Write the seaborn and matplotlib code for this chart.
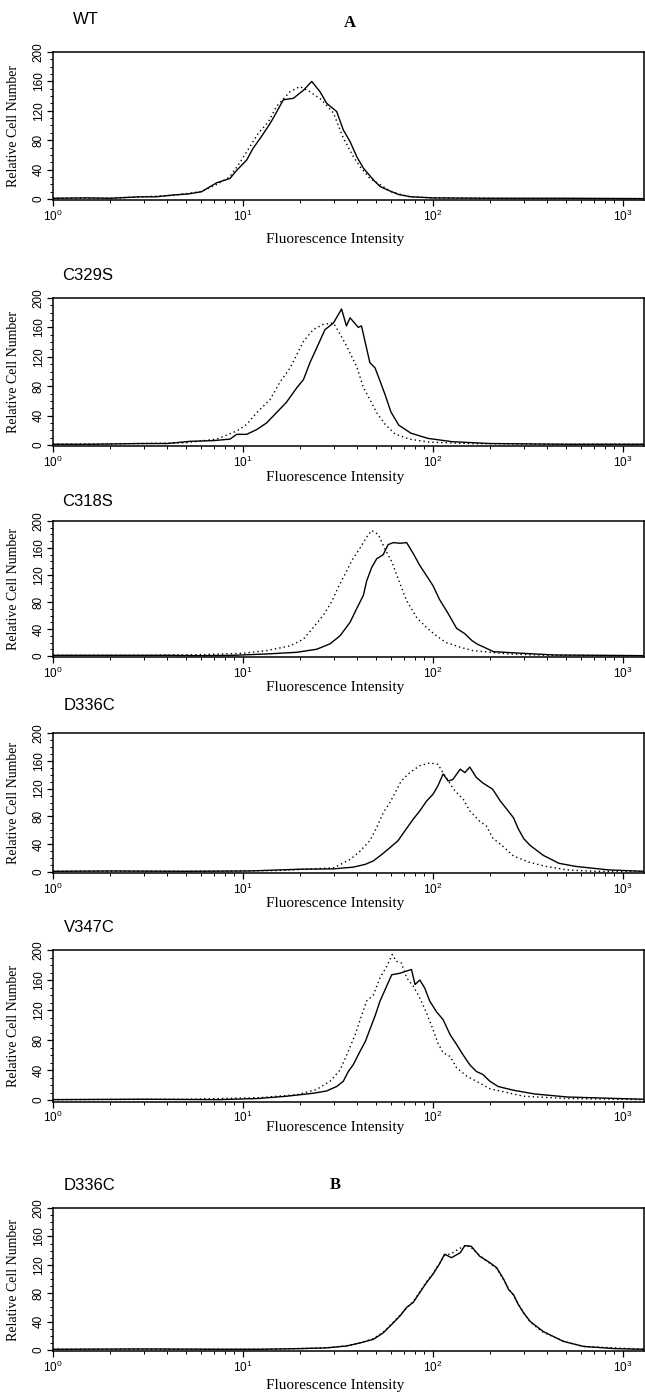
import numpy as np
import pandas as pd
import seaborn as sns
import matplotlib.pyplot as plt
from matplotlib.ticker import MultipleLocator, LogLocator, LogFormatterSciNotation, NullFormatter

# ---- data (intensity, relative cell number) ----
wt_solid_x = [1, 1.5, 2, 2.87, 3.5, 4.28, 5.2, 6.06, 7.26, 8.54, 9.26, 10.45, 11.3, 12.5, 13.9, 14.7, 16.3, 18.4,
              20.8, 23, 25.4, 27.6, 31.1, 33.7, 36.6, 39.6, 43, 48.5, 52.6, 58, 66, 76.6, 100, 200, 500, 1290]
wt_solid_y = [1, 1.5, 1, 3, 3, 5.4, 7, 10, 22, 28, 39, 53, 69, 85, 103, 114, 135, 137,
              148, 160, 146, 130, 119, 94, 78, 58, 42, 26, 17, 12, 6, 3, 1.5, 1, 1, 0.5]
wt_dot_x = [1, 2, 3, 4.3, 6, 7.3, 8.5, 9.6, 12, 13.6, 15, 17.7, 19.9, 22.5, 25.9, 29.9, 33.7, 38, 41.3, 46.5,
            51.6, 60, 75, 100, 300, 1290]
wt_dot_y = [1, 1, 3, 5, 10, 20, 30, 49, 89, 105, 126, 146, 153, 146, 135, 117, 83, 58, 44, 28,
            21, 10, 3, 1.5, 0.5, 0.5]

c329_solid_x = [1, 1.6, 2.87, 4, 5.26, 7, 8.54, 9.26, 10.45, 11.8, 13.3, 15, 16.9, 19.2, 20.8, 22.5, 24.4, 27,
                29.9, 33, 35, 36.6, 40.4, 42, 46.5, 49.5, 52.6, 56, 60, 66, 76.6, 94, 126, 200, 500, 1290]
c329_solid_y = [1, 1, 2, 2, 5, 6, 8, 14.5, 14.5, 21, 30, 44, 58, 78, 89, 112, 132, 157,
                166, 185, 162, 173, 160, 162, 112, 105, 87, 68, 45, 27, 16, 9, 4.5, 2, 1, 1]
c329_dot_x = [1, 3, 5, 7.26, 9.26, 10.45, 11.8, 13.9, 15.6, 17.7, 19.2, 20.8, 23.4, 26.4, 29.9, 32.4, 35, 39.6,
              43, 46.5, 50.5, 56, 63, 75, 95, 150, 400, 1290]
c329_dot_y = [1, 2, 3, 8, 19, 28, 44, 62, 85, 105, 123, 141, 157, 164, 166, 151, 135, 107,
              78, 62, 44, 28, 15, 8, 4, 2, 1, 1]

c318_solid_x = [1, 2, 4, 5.94, 8.87, 13.3, 19.2, 24.4, 28.7, 32.4, 36.6, 39.6, 43, 44.7, 47.5, 50.5, 54.6, 58,
                61.8, 67, 72.6, 78.6, 85.2, 92.4, 100, 108, 120, 133, 147, 160, 170, 208, 295, 438, 1290]
c318_solid_y = [1, 1, 1, 0.5, 1, 3, 5.5, 10, 18, 30, 50, 70, 90, 111, 131, 144, 150, 165,
                168, 167, 168, 152, 134, 119, 104, 84, 63, 41, 33, 23, 18, 6.4, 4, 1.5, 0.5]
c318_dot_x = [1, 3, 6, 10, 13.3, 17.7, 20.8, 23.4, 26.4, 29.2, 31.7, 34.4, 37.3, 41.3, 44.7, 47.5, 51.5, 55.9,
              60.6, 67, 72.6, 82, 92.4, 104, 117, 139, 162, 250, 400, 1290]
c318_dot_y = [1, 1, 2, 4, 8, 15, 25, 42, 60, 80, 102, 121, 141, 160, 176, 186, 180, 158,
              140, 107, 82, 57, 42, 30, 20, 13, 8, 3, 1, 0.5]

d336_solid_x = [1, 2, 5, 10.9, 19.9, 29.9, 38, 44, 48.5, 53.6, 59.3, 65.4, 71, 78.6, 85.2, 92.4, 100, 106, 113,
                120, 127, 139, 147, 156, 169, 183, 206, 226, 245, 265, 281, 300, 325, 380, 460, 565, 840, 1290]
d336_solid_y = [1, 1.5, 1, 1.5, 4, 4.5, 7, 11, 16, 25, 35, 45, 59, 76, 88, 102, 112, 124, 141,
                131, 133, 148, 143, 151, 136, 128, 119, 102, 90, 78, 62, 48, 38, 24, 12.5, 8, 3, 1]
d336_dot_x = [1, 5, 15, 30, 36.6, 41.3, 46.5, 50.5, 54.6, 59.3, 64, 68, 75.4, 85.2, 96, 106, 117, 130, 144,
              156, 176, 191, 206, 233, 265, 320, 394, 508, 700, 1290]
d336_dot_y = [1, 1, 2, 6, 18, 30, 45, 64, 85, 100, 117, 131, 143, 153, 157, 155, 136, 117, 105,
              88, 73, 66, 49, 37, 23, 14, 8, 3, 1, 0.5]

v347_solid_x = [1, 3, 7.56, 12, 16.9, 23.4, 27.5, 31.1, 33.7, 35.8, 38, 41.3, 44, 46.5, 49.5, 52.6, 55.9, 60.6,
                67, 72.6, 77, 80.4, 85.2, 90.5, 96, 104, 113, 123, 133, 144, 156, 169, 183, 199, 220, 265,
                343, 510, 930, 1290]
v347_solid_y = [0.5, 1, 0.5, 2, 5, 9, 12, 18, 25, 38, 47, 65, 78, 94, 112, 132, 147, 167,
                169, 172, 174, 154, 160, 149, 132, 118, 107, 87, 74, 60, 47, 38, 34, 25, 18, 13,
                8, 4, 2, 1]
v347_dot_x = [1, 5, 12, 19.2, 24.4, 28.7, 32.4, 35.8, 38.9, 42, 44.7, 48.5, 52.6, 57, 61, 64, 68, 72.6, 78.6,
              85.2, 92.4, 100, 106, 113, 123, 133, 150, 169, 199, 300, 500, 1290]
v347_dot_y = [0.5, 1, 3, 7, 14, 25, 40, 65, 87, 112, 132, 140, 163, 178, 194, 185, 183, 163, 152,
              136, 116, 94, 76, 63, 58, 43, 32, 25, 15, 5, 2, 0.5]

d336b_solid_x = [1, 3, 8, 12.3, 20, 27.5, 35, 41.3, 48.5, 54.6, 60.6, 67, 72.6, 78.6, 85.2, 92.4, 100, 108,
                 115, 125, 139, 147, 159, 176, 199, 216, 235, 250, 265, 281, 300, 325, 380, 487, 620, 900, 1290]
d336b_solid_y = [1, 1.5, 1, 1, 2, 3, 5.6, 10, 15, 24, 36, 48, 60, 67, 81, 95, 107, 121,
                 135, 130, 137, 147, 146, 132, 123, 116, 100, 85, 78, 64, 52, 40, 26, 12, 5, 2, 1]
d336b_dot_x = [1, 3, 12, 20, 27.5, 35, 41.3, 48.5, 54.6, 60.6, 67, 72.6, 78.6, 85.2, 92.4, 100, 108, 115,
               125, 136, 150, 159, 176, 199, 216, 235, 250, 265, 281, 300, 325, 380, 487, 620, 1290]
d336b_dot_y = [1, 1, 1, 2, 3, 6, 10, 16, 25, 37, 49, 59, 68, 82, 96, 108, 122, 133,
               136, 142, 148, 144, 133, 122, 115, 99, 86, 77, 65, 52, 39, 25, 12, 5, 1]

panel_names = ["WT", "C329S", "C318S", "D336C", "V347C", "D336C"]
solids = [(wt_solid_x, wt_solid_y), (c329_solid_x, c329_solid_y), (c318_solid_x, c318_solid_y),
          (d336_solid_x, d336_solid_y), (v347_solid_x, v347_solid_y), (d336b_solid_x, d336b_solid_y)]
dots = [(wt_dot_x, wt_dot_y), (c329_dot_x, c329_dot_y), (c318_dot_x, c318_dot_y),
        (d336_dot_x, d336_dot_y), (v347_dot_x, v347_dot_y), (d336b_dot_x, d336b_dot_y)]

# ---- layout in reference pixels ----
W, H = 645, 1392
ax_left, ax_right = 53, 644
tops = [52, 298, 521, 733, 950, 1208]
zeros = [199, 445, 656, 872, 1100, 1350]
xlabel_y = [239, 477, 688, 903, 1127, 1385]
name_pos = [(73, 20), (62, 275), (62, 502), (64, 705), (64, 928), (64, 1185)]

sns.set_style("ticks", {'axes.edgecolor': 'black', 'text.color': 'black', 'axes.labelcolor': 'black',
                        'xtick.color': 'black', 'ytick.color': 'black'})
plt.rcParams['font.family'] = ['Liberation Sans', 'DejaVu Sans']
plt.rcParams['mathtext.fontset'] = 'custom'
plt.rcParams['mathtext.rm'] = 'Liberation Sans'
plt.rcParams['mathtext.default'] = 'regular'

fig = plt.figure(figsize=(W / 100, H / 100), dpi=100)
serif = ['Liberation Serif', 'DejaVu Serif']
ymin = -2

for i in range(6):
    T, Z = tops[i], zeros[i]
    bottom = Z + (Z - T) * (-ymin) / 200
    ax = fig.add_axes([ax_left / W, 1 - bottom / H, (ax_right - ax_left) / W, (bottom - T) / H])
    ax.set_xscale('log')

    sx, sy = solids[i]
    dx, dy = dots[i]
    sns.lineplot(x=dx, y=dy, ax=ax, color='black', lw=1.0, ls=(0, (1, 2.2)), estimator=None, errorbar=None)
    sns.lineplot(x=sx, y=sy, ax=ax, color='black', lw=1.0, estimator=None, errorbar=None)

    ax.set_xlim(1, 10 ** 3.11)
    ax.set_ylim(ymin, 200)
    ax.xaxis.set_major_locator(LogLocator(base=10, numticks=5))
    ax.xaxis.set_minor_locator(LogLocator(base=10, subs=np.arange(2, 10), numticks=20))
    ax.xaxis.set_major_formatter(LogFormatterSciNotation())
    ax.xaxis.set_minor_formatter(NullFormatter())
    ax.yaxis.set_major_locator(MultipleLocator(40))
    ax.yaxis.set_minor_locator(MultipleLocator(10))
    ax.tick_params(axis='both', which='major', direction='out', length=4, width=0.9, labelsize=8.5, pad=2,
                   colors='black')
    ax.tick_params(axis='both', which='minor', direction='out', length=2, width=0.7, colors='black')
    for lab in ax.get_yticklabels():
        lab.set_rotation(90)
        lab.set_va('center')
    for sp in ax.spines.values():
        sp.set_linewidth(1.1)
        sp.set_color('black')

    hpx = bottom - T
    ax.set_ylabel("Relative Cell Number", family=serif, fontsize=10, color='black')
    ax.yaxis.set_label_coords((20 - ax_left) / (ax_right - ax_left), 0.5)
    ax.set_xlabel("Fluorescence Intensity", family=serif, fontsize=11, color='black')
    ax.xaxis.set_label_coords((335 - ax_left) / (ax_right - ax_left), -(xlabel_y[i] - bottom) / hpx)
    ax.xaxis.label.set_va('center')

    nx, ny = name_pos[i]
    fig.text(nx / W, 1 - ny / H, panel_names[i], fontsize=12, ha='left', va='center', color='black')

fig.text(350 / W, 1 - 23 / H, "A", family=serif, fontsize=12, fontweight='bold', ha='center', va='center',
         color='black')
fig.text(335 / W, 1 - 1185 / H, "B", family=serif, fontsize=12, fontweight='bold', ha='center', va='center',
         color='black')

fig.savefig("out.png", dpi=100)
